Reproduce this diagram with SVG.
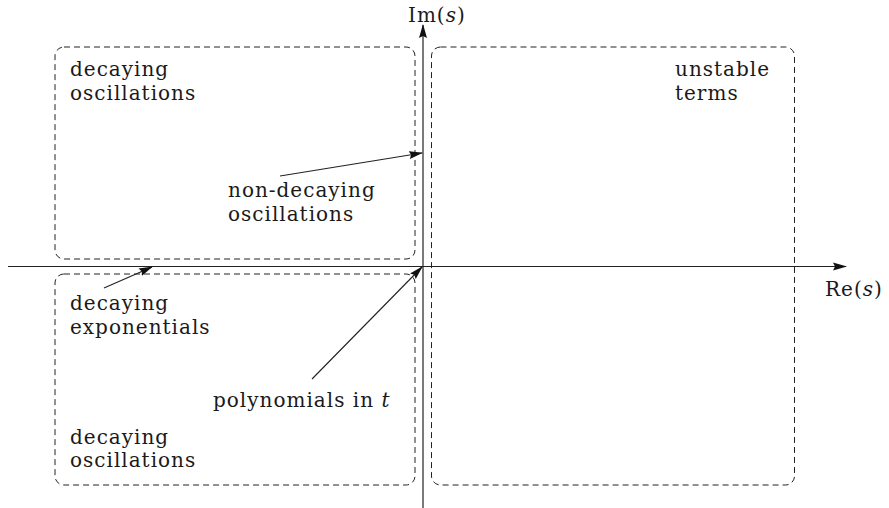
<svg xmlns="http://www.w3.org/2000/svg" width="889" height="508" viewBox="0 0 889 508">
<style>
text{font-family:"DejaVu Serif","Liberation Serif",serif;font-size:20px;fill:#1a1a1a;letter-spacing:1px}
.box{fill:none;stroke:#222;stroke-width:1;stroke-dasharray:6,4}
.ax{stroke:#222;stroke-width:1.2;fill:none}
.ln{stroke:#222;stroke-width:1.1;fill:none}
</style>
<defs>
<marker id="ah" markerWidth="14" markerHeight="9" refX="13" refY="4.5" orient="auto" markerUnits="userSpaceOnUse">
<path d="M0,0.5 L14,4.5 L0,8.5 L2,4.5 Z" fill="#111"/>
</marker>
</defs>
<g id="regions">
<rect id="box-tl" class="box" x="55" y="47" width="360" height="212" rx="9"/>
<rect id="box-bl" class="box" x="55" y="274" width="360" height="211" rx="9"/>
<rect id="box-r" class="box" x="431.5" y="47" width="363" height="438" rx="9"/>
</g>
<g id="connectors">
<line class="ax" x1="8" y1="266.5" x2="846" y2="266.5" marker-end="url(#ah)"/>
<line class="ax" x1="423" y1="508" x2="423" y2="25" marker-end="url(#ah)"/>
<line class="ln" x1="280" y1="176" x2="422" y2="153" marker-end="url(#ah)"/>
<line class="ln" x1="104" y1="288" x2="152" y2="267" marker-end="url(#ah)"/>
<line class="ln" x1="312" y1="379" x2="422" y2="267" marker-end="url(#ah)"/>
</g>
<g id="axis-labels">
<text x="408" y="22">Im(<tspan font-style="italic">s</tspan>)</text>
<text x="825" y="296">Re(<tspan font-style="italic">s</tspan>)</text>
</g>
<g id="label-tl"><text x="70" y="76">decaying</text><text x="70" y="100">oscillations</text></g>
<g id="label-tr"><text x="675" y="76">unstable</text><text x="675" y="100">terms</text></g>
<g id="label-nd"><text x="228" y="197">non-decaying</text><text x="228" y="221">oscillations</text></g>
<g id="label-de"><text x="70" y="310">decaying</text><text x="70" y="334">exponentials</text></g>
<g id="label-poly"><text x="213" y="407">polynomials in <tspan font-style="italic">t</tspan></text></g>
<g id="label-bl"><text x="70" y="444">decaying</text><text x="70" y="467">oscillations</text></g>
</svg>
